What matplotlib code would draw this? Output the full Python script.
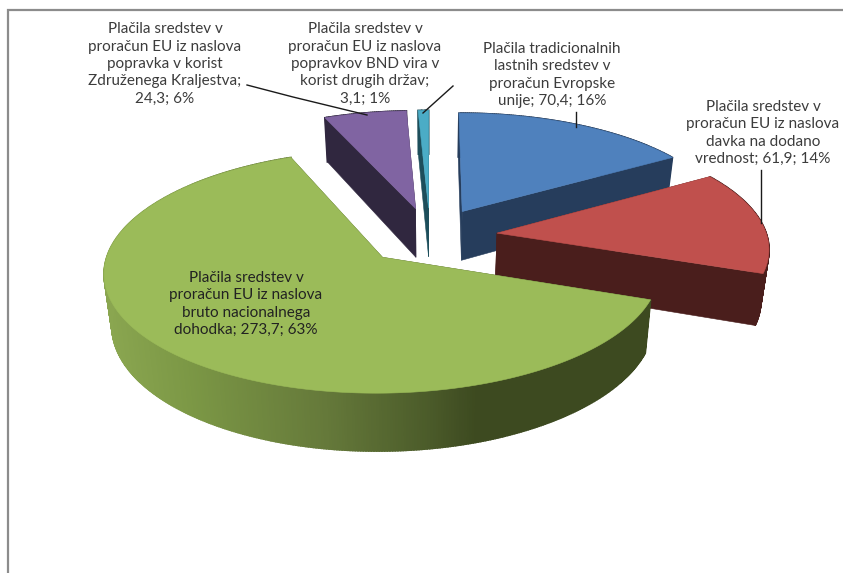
import matplotlib
matplotlib.use('Agg')
import matplotlib.pyplot as plt
from matplotlib.colors import to_rgb
from matplotlib.patches import Polygon
import numpy as np

plt.rcParams['font.family'] = ['Lato', 'DejaVu Sans']

# data, in the order of the slices (clockwise from the top)
values = [70.4, 61.9, 273.7, 24.3, 3.1]
label_heads = [
    'Plačila tradicionalnih\nlastnih sredstev v\nproračun Evropske\nunije; ',
    'Plačila sredstev v\nproračun EU iz naslova\ndavka na dodano\nvrednost; ',
    'Plačila sredstev v\nproračun EU iz naslova\nbruto nacionalnega\ndohodka; ',
    'Plačila sredstev v\nproračun EU iz naslova\npopravka v korist\nZdruženega Kraljestva;\n',
    'Plačila sredstev v\nproračun EU iz naslova\npopravkov BND vira v\nkorist drugih držav;\n',
]
top_colors = ['#4f81bd', '#c0504d', '#9bbb59', '#8064a2', '#4bacc6']
side_colors = ['#263d5c', '#4a1e1c', '#3f4c22', '#30273f', '#1d4e5b']

# where the labels sit (pixels)
label_x = [552, 763, 246, 165, 365]
label_y = [75, 133, 304, 64, 64]
label_colors = ['#3c3c3c', '#3c3c3c', '#222222', '#3c3c3c', '#3c3c3c']
leaders = [
    [(576, 112), (576, 127)],
    [(761, 170), (761, 223)],
    None,
    [(247, 85), (293, 97), (367, 115)],
    [(453, 86), (423, 113)],
]

# green side wall goes dark from left to right
grad_x = [105, 190, 324, 432, 475]
grad_col = ['#8aa650', '#7b9745', '#65793a', '#4a5a29', '#3d4a20']

# pie geometry, fitted by eye
cx, cy = 430, 236
rx, ry = 270, 115
persp = 0.115
explode = 0.25
thick = 50
bottom_shrink = 0.976
draw_order = [4, 3, 0, 1, 2]


def project(X, Y):
    w = 1 + persp * Y
    return cx + rx * X / w, cy - ry * Y / w, thick / w


def wedge(start, end, mid):
    a = np.radians(np.linspace(start, end, max(int(end - start) * 2, 4)))
    ox = explode * np.sin(np.radians(mid))
    oy = explode * np.cos(np.radians(mid))
    X = np.concatenate([[ox], ox + np.sin(a)])
    Y = np.concatenate([[oy], oy + np.cos(a)])
    return project(X, Y)


def low(x):
    return cx + (x - cx) * bottom_shrink


def side_color(i, x):
    if i != 2:
        return side_colors[i]
    stops = np.array([to_rgb(c) for c in grad_col])
    return [np.interp(x, grad_x, stops[:, k]) for k in range(3)]


fig = plt.figure(figsize=(8.43, 5.73), dpi=100)
ax = fig.add_axes([0, 0, 1, 1])
ax.set_xlim(0, 843)
ax.set_ylim(573, 0)
ax.axis('off')

# chart frame, only top and left show in the crop
ax.plot([8, 8, 843], [573, 10, 10], color='#8c8c8c', lw=1.6, solid_joinstyle='miter')

total = sum(values)
ends = np.cumsum(values) / total * 360
starts = np.concatenate([[0], ends[:-1]])

for i in draw_order:
    mid = (starts[i] + ends[i]) / 2
    xs, ys, ts = wedge(starts[i], ends[i], mid)
    # radial walls
    for j in [1, len(xs) - 1]:
        pts = [(xs[0], ys[0]), (xs[j], ys[j]), (low(xs[j]), ys[j] + ts[j]), (low(xs[0]), ys[0] + ts[0])]
        ax.add_patch(Polygon(pts, closed=True, fc=side_colors[i], ec=side_colors[i], lw=0.4))
    # outer wall, one quad per step
    for j in range(1, len(xs) - 1):
        pts = [(xs[j], ys[j]), (xs[j + 1], ys[j + 1]),
               (low(xs[j + 1]), ys[j + 1] + ts[j + 1]), (low(xs[j]), ys[j] + ts[j])]
        c = side_color(i, (xs[j] + xs[j + 1]) / 2)
        ax.add_patch(Polygon(pts, closed=True, fc=c, ec=c, lw=1.2))
    ax.add_patch(Polygon(np.column_stack([xs, ys]), closed=True, fc=top_colors[i],
                         ec=top_colors[i], lw=0.4))

for pts in leaders:
    if pts is not None:
        ax.plot([p[0] for p in pts], [p[1] for p in pts], color='#1a1a1a', lw=1.0)

for i in range(len(values)):
    pct = int(round(values[i] / total * 100))
    txt = label_heads[i] + ('%.1f' % values[i]).replace('.', ',') + '; %d%%' % pct
    ax.text(label_x[i], label_y[i], txt, ha='center', va='center', fontsize=11,
            color=label_colors[i], linespacing=1.3)

fig.savefig('out.png', dpi=100, facecolor='white')
